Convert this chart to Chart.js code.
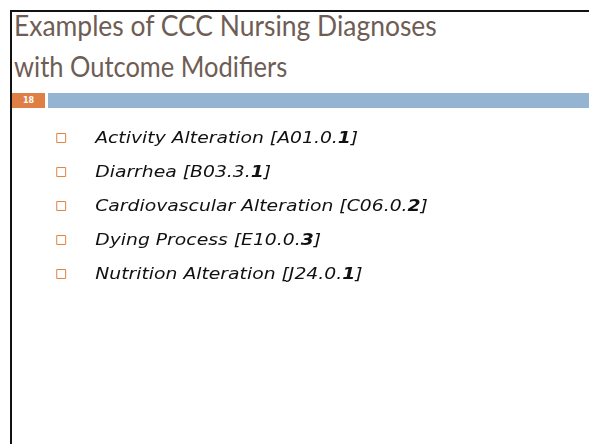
<!DOCTYPE html>
<html>
<head>
<meta charset="utf-8">
<script src="https://cdn.jsdelivr.net/npm/chart.js@4.4.0/dist/chart.umd.min.js"></script>
<style>
  html, body { margin: 0; padding: 0; background: #fff; }
  #slide { position: relative; width: 589px; height: 444px; overflow: hidden; }
  #frame { position: absolute; left: 10px; top: 10px; width: 600px; height: 500px;
           border-left: 2px solid #111; border-top: 2px solid #111; }
  .title { position: absolute; left: 14px; font-family: Lato, sans-serif; font-size: 28px;
           color: #6e5d54; white-space: nowrap; line-height: 1; transform-origin: 0 0; }
  #num { position: absolute; left: 12px; top: 93px; width: 33px; height: 15px; background: #df7f45;
         color: #fff; font: bold 8px "DejaVu Sans", sans-serif; text-align: center; line-height: 15px; }
  #bar { position: absolute; left: 48px; top: 93px; width: 560px; height: 15px; background: #94b4d1; }
  canvas { position: absolute; left: 0; top: 0; }
</style>
</head>
<body>
<div id="slide">
  <div id="frame"></div>
  <div class="title" id="t1" style="top:11px">Examples of CCC Nursing Diagnoses</div>
  <div class="title" id="t2" style="top:52px">with Outcome Modifiers</div>
  <div id="num">18</div>
  <div id="bar"></div>
  <canvas id="list" width="589" height="444"></canvas>
</div>
<script>
// Diagnoses shown on the slide
const diagnoses = ['Activity Alteration', 'Diarrhea', 'Cardiovascular Alteration', 'Dying Process', 'Nutrition Alteration'];
const codes = ['A01.0', 'B03.3', 'C06.0', 'E10.0', 'J24.0'];
const outcomes = ['1', '1', '2', '3', '1'];

// squeeze the title lines to the widths on the slide
[['t1', 423], ['t2', 273]].forEach(([id, w]) => {
    const el = document.getElementById(id);
    el.style.transform = 'scaleX(' + (w / el.offsetWidth) + ')';
});

const itemFont = 'oblique 16.5px "DejaVu Sans", sans-serif';
const boldFont = 'oblique bold 16.5px "DejaVu Sans", sans-serif';

// draw the label text next to each bullet point
const labelPlugin = {
    id: 'labels',
    afterDatasetsDraw(chart) {
        const ctx = chart.ctx;
        const meta = chart.getDatasetMeta(0);
        const partsFor = i => [
            [diagnoses[i] + ' [' + codes[i] + '.', itemFont],
            [outcomes[i], boldFont],
            [']', itemFont]
        ];
        // horizontal squeeze so the first line has the slide's width
        let w0 = 0;
        partsFor(0).forEach(([txt, f]) => { ctx.font = f; w0 += ctx.measureText(txt).width; });
        const sx = 263 / w0;

        ctx.save();
        ctx.fillStyle = '#111';
        ctx.textBaseline = 'alphabetic';
        meta.data.forEach((pt, i) => {
            const x0 = pt.x + 34;
            const y = pt.y + 4.5;
            let dx = 0;
            partsFor(i).forEach(([txt, f]) => {
                ctx.font = f;
                ctx.save();
                ctx.translate(x0, y);
                ctx.scale(sx, 1);
                ctx.fillText(txt, dx, 0);
                ctx.restore();
                dx += ctx.measureText(txt).width;
            });
        });
        ctx.restore();
    }
};

new Chart(document.getElementById('list'), {
    type: 'line',
    data: {
        labels: diagnoses,
        datasets: [{
            data: diagnoses.map(() => 0),
            showLine: false,
            clip: false,
            pointStyle: 'rect',
            pointRadius: 6.3,
            pointBorderWidth: 1,
            pointBorderColor: '#e2813f',
            pointBackgroundColor: '#fff'
        }]
    },
    options: {
        indexAxis: 'y',
        responsive: false,
        animation: false,
        events: [],
        layout: { padding: { left: 61.2, top: 121, bottom: 153, right: 20 } },
        plugins: { legend: { display: false }, tooltip: { enabled: false } },
        scales: {
            x: { type: 'linear', min: 0, max: 1, display: false },
            y: { type: 'category', offset: true, display: false }
        }
    },
    plugins: [labelPlugin]
});
</script>
</body>
</html>
